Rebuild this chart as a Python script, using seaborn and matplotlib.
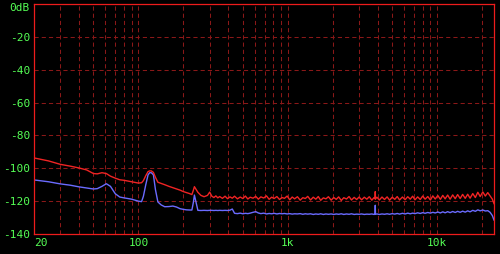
import matplotlib
matplotlib.use("Agg")
import matplotlib.pyplot as plt
import matplotlib.transforms as mtransforms
import pandas as pd
import seaborn as sns
from matplotlib.ticker import FixedLocator, NullFormatter

# ---------------- data ----------------
freq_hz = [
    20, 25, 30, 35, 40, 45, 50, 53, 57, 61,
    65, 70, 75, 80, 90, 100, 105, 108, 112, 116,
    119, 122, 126, 130, 135, 142, 150, 160, 170, 180,
    190, 200, 210, 220, 228, 233, 237, 242, 250, 262,
    275, 290,
    300, 310, 320, 330, 340, 350, 365, 380, 395, 410,
    425, 440, 460, 480, 500, 520, 540, 560, 585, 610,
    635, 660, 690, 720, 750, 780, 810, 845, 880, 915,
    950, 990, 1030, 1070, 1110, 1160, 1210, 1260, 1310, 1360,
    1420, 1480, 1540, 1600, 1660, 1730, 1800, 1870, 1950, 2030,
    2110, 2190, 2280, 2370, 2470, 2570, 2670, 2780, 2890, 3000,
    3120, 3250, 3380, 3510, 3650, 3780, 3840, 3850, 3860, 3950, 4100, 4270, 4440,
    4620, 4800, 5000, 5200, 5400, 5600, 5850, 6100, 6350, 6600,
    6850, 7100, 7400, 7700, 8000, 8300, 8650, 9000, 9350, 9700,
    10100, 10500, 10900, 11300, 11750, 12200, 12700, 13200, 13700, 14250,
    14800, 15400, 16000, 16600, 17300, 18000, 18700, 19400, 20200, 21000,
    21800, 22600, 23400, 24000,
]

lch_db = [  # red trace
    -93.7, -95.5, -97.6, -98.7, -99.8, -101.0, -103.2, -103.4, -102.7, -103.2,
    -104.8, -106.0, -107.0, -107.3, -108.2, -109.0, -108.8, -107.5, -104.5, -102.0,
    -101.6, -101.6, -102.5, -105.5, -108.5, -109.2, -110.0, -111.0, -111.8, -112.5,
    -113.3, -114.2, -114.8, -115.4, -116.0, -113.5, -111.2, -112.5, -114.6, -116.5,
    -117.3, -116.5,
    -114.5, -117.0, -117.8, -116.8, -118.0, -117.2, -118.3, -117.0, -118.5, -117.4,
    -118.2, -117.0, -118.6, -117.5, -118.4, -116.9, -118.7, -117.6, -118.2, -117.1,
    -118.8, -117.4, -118.1, -116.8, -118.9, -117.6, -118.4, -117.2, -119.0, -117.8,
    -118.3, -116.9, -119.2, -117.5, -118.6, -117.3, -119.4, -117.9, -118.4, -117.1,
    -119.3, -117.6, -118.8, -117.2, -119.5, -118.0, -118.6, -117.3, -119.4, -117.8,
    -118.9, -117.4, -119.6, -117.9, -118.7, -117.2, -119.3, -117.7, -119.0, -117.5,
    -119.2, -117.6, -118.8, -117.3, -119.4, -117.8, -118.6, -114.2, -118.7, -117.6, -119.3, -117.5, -119.0,
    -117.4, -119.4, -117.6, -118.9, -117.2, -119.3, -117.5, -119.1, -117.3, -118.8,
    -117.0, -119.2, -117.4, -119.0, -116.9, -118.8, -117.2, -119.3, -116.8, -118.7,
    -116.6, -118.9, -116.5, -118.6, -116.3, -118.8, -116.2, -118.5, -116.0, -118.4,
    -115.9, -118.3, -115.8, -118.2, -115.4, -117.8, -114.6, -117.2, -114.4, -116.9,
    -114.8, -116.8, -118.8, -121.5,
]

rch_db = [  # blue trace
    -107.1, -108.2, -109.5, -110.3, -111.3, -112.0, -112.6, -112.4, -111.0, -109.4,
    -111.0, -115.5, -117.5, -118.0, -118.8, -120.0, -120.3, -117.0, -110.0, -104.0,
    -102.7, -102.7, -104.0, -113.0, -120.5, -122.3, -123.4, -123.3, -123.0, -123.6,
    -124.6, -125.0, -125.3, -125.4, -125.4, -121.0, -116.3, -120.0, -125.6, -125.7,
    -125.6, -125.7,
    -125.6, -125.6, -125.7, -125.6, -125.7, -125.6, -125.7, -125.6, -125.7, -125.5,
    -124.8, -127.4, -127.6, -127.3, -127.7, -127.4, -127.6, -127.3, -126.8, -126.4,
    -127.2, -127.6, -127.3, -127.8, -127.5, -127.7, -127.4, -127.8, -127.5, -127.7,
    -127.5, -127.8, -127.6, -127.9, -127.7, -127.8, -127.6, -128.0, -127.7, -127.9,
    -127.7, -128.1, -127.8, -128.0, -127.7, -128.1, -127.8, -128.0, -127.8, -128.1,
    -127.8, -128.0, -127.7, -128.1, -127.8, -128.0, -127.7, -128.1, -127.9, -128.0,
    -127.8, -128.1, -127.9, -128.0, -127.8, -128.1, -127.9, -122.5, -128.0, -127.8, -128.1, -127.8, -128.0,
    -127.7, -128.0, -127.6, -127.9, -127.5, -127.9, -127.4, -127.8, -127.3, -127.7,
    -127.3, -127.6, -127.1, -127.5, -127.0, -127.4, -126.9, -127.3, -126.8, -127.2,
    -126.6, -127.2, -126.5, -127.1, -126.4, -127.0, -126.3, -126.9, -126.2, -126.8,
    -126.1, -126.7, -125.9, -126.5, -125.6, -126.2, -125.3, -125.9, -125.4, -126.0,
    -125.8, -126.8, -128.8, -131.5,
]

x_ticks = [20, 100, 1000, 10000]
x_tick_labels = ["20", "100", "1k", "10k"]
x_grid_minor = [30, 40, 50, 60, 70, 80, 90,
                200, 300, 400, 500, 600, 700, 800, 900,
                2000, 3000, 4000, 5000, 6000, 7000, 8000, 9000,
                20000]
y_ticks = [0, -20, -40, -60, -80, -100, -120, -140]
y_tick_labels = ["0dB", "-20", "-40", "-60", "-80", "-100", "-120", "-140"]

# ---------------- styling ----------------
plt.rcParams["font.family"] = ["DejaVu Sans Mono", "DejaVu Sans"]
plt.rcParams["lines.scale_dashes"] = False

BG = "#000000"
BORDER = "#ee1c1c"
GRID = "#8a1818"
LABEL = "#55ff55"
RED = "#f02424"
BLUE = "#6b6bff"

n = len(freq_hz)
df = pd.DataFrame({
    "freq": freq_hz + freq_hz,
    "level": rch_db + lch_db,
    "ch": ["R"] * n + ["L"] * n,
})

fig = plt.figure(figsize=(5.0, 2.54), dpi=100, facecolor=BG)
ax = fig.add_axes([34 / 500, 20 / 254, 460 / 500, 230 / 254])
ax.set_facecolor(BG)

sns.lineplot(data=df, x="freq", y="level", hue="ch", hue_order=["R", "L"],
             palette={"R": BLUE, "L": RED}, estimator=None, errorbar=None,
             sort=False, legend=False, linewidth=1.0, ax=ax)

ax.set_xscale("log")
ax.set_xlim(20, 24000)
ax.set_ylim(-140, 0)
ax.set_xlabel("")
ax.set_ylabel("")

ax.xaxis.set_major_locator(FixedLocator(x_ticks))
ax.set_xticklabels(x_tick_labels)
ax.xaxis.set_minor_locator(FixedLocator(x_grid_minor))
ax.xaxis.set_minor_formatter(NullFormatter())
ax.set_yticks(y_ticks)
ax.set_yticklabels(y_tick_labels)

ax.set_axisbelow(True)
dash = (0, (3, 2.2))
ax.grid(which="both", axis="x", color=GRID, linestyle=dash, linewidth=0.75)
ax.grid(which="major", axis="y", color=GRID, linestyle=dash, linewidth=0.75)

ax.tick_params(which="both", length=0, colors=LABEL, labelsize=8)
ax.tick_params(axis="y", pad=3)
ax.tick_params(axis="x", pad=3)
ax.get_xticklabels()[0].set_horizontalalignment("left")

# nudge the top "0dB" label down so it stays inside the figure
top_lbl = ax.get_yticklabels()[0]
top_lbl.set_transform(top_lbl.get_transform() +
                      mtransforms.ScaledTranslation(0, -2.5 / 100, fig.dpi_scale_trans))

for s in ax.spines.values():
    s.set_color(BORDER)
    s.set_linewidth(0.9)

fig.savefig("out.png", dpi=100, facecolor=BG)
